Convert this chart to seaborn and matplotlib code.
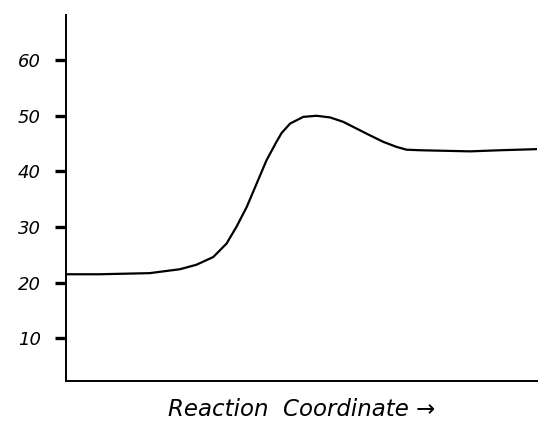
import numpy as np
import pandas as pd
import matplotlib
matplotlib.use("Agg")
import matplotlib.pyplot as plt
import seaborn as sns

# energy profile
coord = [0.0, 0.72, 1.78, 2.42, 2.77, 3.13, 3.41, 3.62, 3.84, 4.05, 4.26,
         4.47, 4.58, 4.76, 5.04, 5.32, 5.61, 5.89, 6.17, 6.45, 6.74,
         7.02, 7.23, 7.52, 8.58, 9.21, 10.0]
energy = [21.5, 21.5, 21.7, 22.4, 23.2, 24.6, 27.0, 30.0, 33.6, 37.8, 42.0,
          45.3, 46.9, 48.6, 49.8, 50.0, 49.7, 48.9, 47.7, 46.5, 45.3,
          44.4, 43.9, 43.8, 43.6, 43.8, 44.0]
yticks = [10, 20, 30, 40, 50, 60]

df = pd.DataFrame({"coord": coord, "energy": energy})

sns.set_style("white")
plt.rcParams['font.family'] = ['DejaVu Sans']

fig = plt.figure(figsize=(5.48, 4.32), dpi=100)
ax = fig.add_axes([0.120, 0.118, 0.860, 0.847])

sns.lineplot(data=df, x="coord", y="energy", ax=ax, color="black",
             linewidth=1.6, estimator=None, sort=False)
ax.lines[0].set_solid_joinstyle('round')

ax.set_xlim(0, 10)
ax.set_ylim(2.3, 68.1)
ax.set_xticks([])
ax.set_yticks(yticks)
ax.set_yticklabels([str(t) for t in yticks], fontsize=13, fontstyle='italic', color='black')
ax.tick_params(axis='y', left=True, direction='out', length=8, width=2.4, pad=10, color='black')

for side in ['top', 'right']:
    ax.spines[side].set_visible(False)
for side in ['left', 'bottom']:
    ax.spines[side].set_color('black')
    ax.spines[side].set_linewidth(1.4)

ax.set_ylabel("")
ax.set_xlabel("Reaction  Coordinate \u2192", fontsize=16.5, fontstyle='italic',
              labelpad=12, color='black')

fig.savefig("out.png", dpi=100)
